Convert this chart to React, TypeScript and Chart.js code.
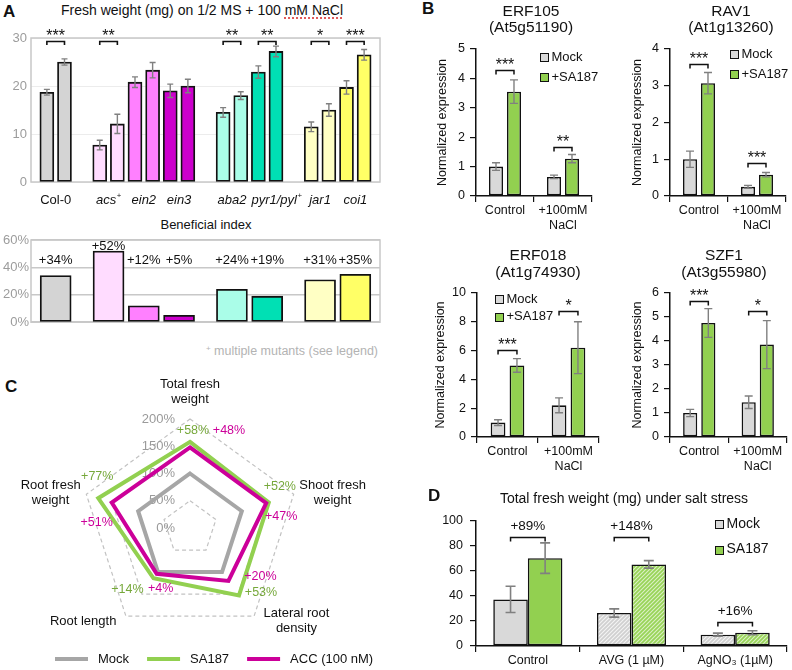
import React, { useEffect, useRef } from "react";
import { Chart, registerables } from "chart.js";

Chart.register(...registerables);

const FONT = '"Liberation Sans", Arial, Helvetica, sans-serif';
const INK = "#111111";
const ERR = "#808080";

// ---------- Panel A: fresh weight on 1/2 MS + 100 mM NaCl ----------
const genotypes = ["Col-0", "acs⁺", "ein2", "ein3", "aba2", "pyr1/pyl⁺", "jar1", "coi1"];
const genotypeGroup = [0, 1, 1, 1, 2, 2, 3, 3];
const freshMock = [18.7, 7.7, 20.8, 19.0, 14.5, 22.9, 11.5, 19.7];
const freshMockErr = [0.6, 1.0, 1.1, 1.4, 1.0, 1.3, 1.0, 1.4];
const freshSA187 = [25.0, 12.1, 23.3, 20.0, 18.0, 27.2, 15.0, 26.5];
const freshSA187Err = [0.65, 2.0, 1.6, 1.4, 0.8, 1.1, 1.3, 1.1];
const freshStars = ["***", "**", "", "", "**", "**", "*", "***"];
const freshBracketLevel = 29.3;
const freshTicks = [0, 10, 20, 30];
const beneficialIndex = [34, 52, 12, 5, 24, 19, 31, 35];
const beneficialTicks = [0, 20, 40, 60];

// ---------- Panel B: qPCR ----------
const qpcrConditions: any[] = ["Control", ["+100mM", "NaCl"]];
const qpcrSeries = ["Mock", "+SA187"];

const erf105Mock = [1.0, 0.65];
const erf105MockErr = [0.13, 0.06];
const erf105SA187 = [3.55, 1.27];
const erf105SA187Err = [0.4, 0.14];
const erf105Stars = ["***", "**"];
const erf105BracketLevels = [4.27, 1.68];
const erf105Ticks = [0, 1, 2, 3, 4, 5];

const rav1Mock = [1.0, 0.25];
const rav1MockErr = [0.22, 0.04];
const rav1SA187 = [3.07, 0.58];
const rav1SA187Err = [0.29, 0.06];
const rav1Stars = ["***", "***"];
const rav1BracketLevels = [3.6, 0.9];
const rav1Ticks = [0, 1, 2, 3, 4];

const erf018Mock = [1.0, 2.2];
const erf018MockErr = [0.2, 0.52];
const erf018SA187 = [4.97, 6.2];
const erf018SA187Err = [0.47, 1.8];
const erf018Stars = ["***", "*"];
const erf018BracketLevels = [6.05, 8.77];
const erf018Ticks = [0, 2, 4, 6, 8, 10];

const szf1Mock = [1.0, 1.45];
const szf1MockErr = [0.15, 0.26];
const szf1SA187 = [4.75, 3.85];
const szf1SA187Err = [0.6, 1.0];
const szf1Stars = ["***", "*"];
const szf1BracketLevels = [5.68, 5.26];
const szf1Ticks = [0, 1, 2, 3, 4, 5, 6];

// ---------- Panel C: radar ----------
const traits = [["Total fresh", "weight"], ["Shoot fresh", "weight"], ["Lateral root", "density"], ["Root length"], ["Root fresh", "weight"]];
const radarSeries = ["Mock", "SA187", "ACC (100 nM)"];
const radarMock = [100, 100, 100, 100, 100];
const radarSA187 = [158, 152, 153, 114, 177];
const radarACC = [148, 147, 120, 104, 151];
const radarTicks = [0, 50, 100, 150, 200];

// ---------- Panel D: total fresh weight ----------
const treatments = ["Control", "AVG (1 µM)", "AgNO₃ (1µM)"];
const totalSeries = ["Mock", "SA187"];
const totalMock = [37.3, 26.4, 9.1];
const totalMockErr = [10.5, 3.3, 1.2];
const totalSA187 = [70.3, 65.3, 10.6];
const totalSA187Err = [12.2, 3.0, 1.6];
const totalGainPct = [89, 148, 16];
const totalBracketLevels = [87, 87, 19.5];
const totalTicks = [0, 20, 40, 60, 80, 100];

// ---------- styles ----------
const genotypeColors = ["#d4d4d4", "#ffdcff", "#ff80ff", "#cc00cc", "#aafde8", "#00e0b4", "#ffffc4", "#ffff66"];
const MOCK_FILL = "#d9d9d9";
const SA_FILL = "#92d050";
const radarColors = ["#a6a6a6", "#92d050", "#cc0099"];
const radarTextColors = ["#a6a6a6", "#76a83a", "#cc0099"];
// offsets of the percentage notes from each polygon vertex (SA187, ACC)
const radarNoteOffsets = [
  [[3, -11], [11, -16], [22, -3], [-26, 11], [-1, -22]],
  [[39, -17], [15, 13], [32, -4], [4, 15], [-15, 20]],
];

const f = (size: number, style = "") => `${style} ${size}px ${FONT}`.trim();

function errBar(ctx: any, x: number, y1: number, y2: number, cap: number) {
  ctx.beginPath();
  ctx.moveTo(x, y1); ctx.lineTo(x, y2);
  ctx.moveTo(x - cap / 2, y1); ctx.lineTo(x + cap / 2, y1);
  ctx.moveTo(x - cap / 2, y2); ctx.lineTo(x + cap / 2, y2);
  ctx.stroke();
}
function bracket(ctx: any, x1: number, x2: number, y: number, drop: number) {
  ctx.beginPath();
  ctx.moveTo(x1, y + drop); ctx.lineTo(x1, y); ctx.lineTo(x2, y); ctx.lineTo(x2, y + drop);
  ctx.stroke();
}
function frame(chart: any, color: string, lw: number) {
  const { ctx, chartArea: a } = chart;
  ctx.save();
  ctx.strokeStyle = color; ctx.lineWidth = lw;
  ctx.strokeRect(a.left, a.top, a.right - a.left, a.bottom - a.top);
  ctx.restore();
}
// draws a label where "⁺" becomes a small raised "+"
function supText(ctx: any, text: string, left: number, y: number, size: number, style: string) {
  const parts = text.split("⁺");
  let x = left;
  parts.forEach((p, k) => {
    ctx.font = f(size, style);
    ctx.fillText(p, x, y);
    x += ctx.measureText(p).width;
    if (k < parts.length - 1) {
      ctx.font = f(size * 0.6);
      ctx.fillText("+", x + 0.5, y - size * 0.3);
      x += ctx.measureText("+").width + 0.5;
    }
  });
}
function supWidth(ctx: any, text: string, size: number, style: string) {
  const parts = text.split("⁺");
  ctx.font = f(size, style);
  let w = parts.reduce((s, p) => s + ctx.measureText(p).width, 0);
  ctx.font = f(size * 0.6);
  w += (parts.length - 1) * (ctx.measureText("+").width + 0.5);
  return w;
}

const slotOf = (i: number) => 2 * i + 1 + genotypeGroup[i];
const slotMin = 0.1;
const slotMax = slotOf(genotypes.length - 1) + 1.9;

function freshConfig(): any {
  const pts = genotypes.flatMap((_, i) => [{ x: slotOf(i), y: freshMock[i] }, { x: slotOf(i) + 1, y: freshSA187[i] }]);
  const errs = genotypes.flatMap((_, i) => [freshMockErr[i], freshSA187Err[i]]);
  return {
    type: "bar",
    data: {
      datasets: [{
        data: pts,
        backgroundColor: genotypes.flatMap((_, i) => [genotypeColors[i], genotypeColors[i]]),
        borderColor: INK, borderWidth: 1.8, borderSkipped: false, barThickness: 14,
      }],
    },
    options: {
      animation: false, responsive: false,
      layout: { padding: { left: 0, top: 38, right: 12, bottom: 30 } },
      plugins: { legend: { display: false }, tooltip: { enabled: false } },
      scales: {
        x: { type: "linear", min: slotMin, max: slotMax, offset: false, display: false },
        y: {
          min: 0, max: freshTicks[freshTicks.length - 1],
          afterBuildTicks: (s: any) => { s.ticks = freshTicks.map((v) => ({ value: v })); },
          ticks: { color: "#9c9c9c", font: { family: FONT, size: 13 }, padding: 4 },
          grid: { color: "#ececec", lineWidth: 1, drawTicks: false },
          border: { display: false },
          afterFit: (s: any) => { s.width = 31; },
        },
      },
    },
    plugins: [{
      id: "freshDecor",
      beforeDatasetsDraw(chart: any) { frame(chart, "#c8c8c8", 1.5); },
      afterDraw(chart: any) {
        const { ctx, scales: { x, y }, chartArea } = chart;
        const meta = chart.getDatasetMeta(0);
        ctx.save();
        ctx.strokeStyle = ERR; ctx.lineWidth = 1.4;
        meta.data.forEach((el: any, k: number) => {
          const v = pts[k].y, e = errs[k];
          errBar(ctx, el.x, y.getPixelForValue(v + e), y.getPixelForValue(v - e), 6);
        });
        ctx.strokeStyle = INK; ctx.lineWidth = 1.6; ctx.fillStyle = INK;
        ctx.textAlign = "center"; ctx.textBaseline = "alphabetic"; ctx.font = f(16);
        const by = Math.round(y.getPixelForValue(freshBracketLevel)) + 0.5;
        freshStars.forEach((s, i) => {
          if (!s) return;
          const x1 = meta.data[2 * i].x, x2 = meta.data[2 * i + 1].x;
          bracket(ctx, x1, x2, by, 3.5);
          ctx.fillText(s, (x1 + x2) / 2, by - 1);
        });
        // genotype labels
        ctx.textBaseline = "middle"; ctx.textAlign = "left";
        let prevRight = -Infinity;
        genotypes.forEach((g, i) => {
          const style = i === 0 ? "" : "italic";
          const w = supWidth(ctx, g, 13, style);
          let left = x.getPixelForValue(slotOf(i) + 0.5) - w / 2;
          if (left < prevRight + 5) left = prevRight + 5;
          supText(ctx, g, left, chartArea.bottom + 18, 13, style);
          prevRight = left + w;
        });
        ctx.restore();
      },
    }],
  };
}

function beneficialConfig(): any {
  const pts = genotypes.map((_, i) => ({ x: slotOf(i) + 0.5, y: beneficialIndex[i] }));
  return {
    type: "bar",
    data: {
      datasets: [{
        data: pts, backgroundColor: genotypeColors,
        borderColor: INK, borderWidth: 1.8, borderSkipped: false, barThickness: 31,
      }],
    },
    options: {
      animation: false, responsive: false,
      layout: { padding: { left: 0, top: 10, right: 12, bottom: 4 } },
      plugins: { legend: { display: false }, tooltip: { enabled: false } },
      scales: {
        x: { type: "linear", min: slotMin, max: slotMax, offset: false, display: false },
        y: {
          min: 0, max: beneficialTicks[beneficialTicks.length - 1],
          afterBuildTicks: (s: any) => { s.ticks = beneficialTicks.map((v) => ({ value: v })); },
          ticks: { color: "#9c9c9c", font: { family: FONT, size: 13 }, padding: 2, callback: (v: any) => `${v}%` },
          grid: { color: "#c8c8c8", lineWidth: 1.5, drawTicks: false },
          border: { display: false },
          afterFit: (s: any) => { s.width = 31; },
        },
      },
    },
    plugins: [{
      id: "beneficialDecor",
      beforeDatasetsDraw(chart: any) { frame(chart, "#c8c8c8", 1.5); },
      afterDraw(chart: any) {
        const { ctx, scales: { y } } = chart;
        const meta = chart.getDatasetMeta(0);
        ctx.save();
        ctx.fillStyle = INK; ctx.font = f(13); ctx.textAlign = "center"; ctx.textBaseline = "middle";
        meta.data.forEach((el: any, i: number) => {
          const v = beneficialIndex[i];
          ctx.fillText(`+${v}%`, el.x, y.getPixelForValue(Math.max(45, v + 3.5)));
        });
        ctx.restore();
      },
    }],
  };
}

function pairDecor(o: any) {
  return {
    id: "pairDecor",
    afterDraw(chart: any) {
      const { ctx, scales: { y }, chartArea } = chart;
      ctx.save();
      ctx.strokeStyle = ERR; ctx.lineWidth = o.errWidth;
      [0, 1].forEach((d) => {
        const meta = chart.getDatasetMeta(d);
        const vals = chart.data.datasets[d].data;
        meta.data.forEach((el: any, i: number) => {
          const v = vals[i], e = o.errs[d][i];
          errBar(ctx, el.x, y.getPixelForValue(v + e), y.getPixelForValue(v - e), o.cap);
        });
      });
      ctx.strokeStyle = INK; ctx.lineWidth = 1.5; ctx.fillStyle = INK;
      ctx.textAlign = "center"; ctx.textBaseline = "alphabetic"; ctx.font = o.markFont;
      o.marks.forEach((m: string, i: number) => {
        if (!m) return;
        const x1 = chart.getDatasetMeta(0).data[i].x, x2 = chart.getDatasetMeta(1).data[i].x;
        const yy = Math.round(y.getPixelForValue(o.levels[i])) + 0.5;
        bracket(ctx, x1, x2, yy, 4);
        ctx.fillText(m, (x1 + x2) / 2, yy - o.markLift);
      });
      if (o.legend) {
        const L = o.legend;
        ctx.font = L.font; ctx.textAlign = "left"; ctx.textBaseline = "middle"; ctx.lineWidth = 1;
        o.names.forEach((name: string, k: number) => {
          const sx = Math.round(chartArea.left + L.dx) + 0.5;
          const cy = chartArea.top + L.dy + k * L.gap;
          const sy = Math.round(cy - 4) + 0.5;
          ctx.fillStyle = o.swatches[k]; ctx.fillRect(sx, sy, 8, 8);
          ctx.strokeStyle = INK; ctx.strokeRect(sx, sy, 8, 8);
          ctx.fillStyle = INK; ctx.fillText(name, sx + 11, cy);
        });
      }
      ctx.restore();
    },
  };
}

function qpcrConfig(s: any): any {
  return {
    type: "bar",
    data: {
      labels: qpcrConditions,
      datasets: [
        { label: qpcrSeries[0], data: s.mock, backgroundColor: MOCK_FILL },
        { label: qpcrSeries[1], data: s.sa, backgroundColor: SA_FILL },
      ],
    },
    options: {
      animation: false, responsive: false,
      layout: { padding: { left: s.pad[0], top: s.pad[1], right: s.pad[2], bottom: 0 } },
      plugins: { legend: { display: false }, tooltip: { enabled: false } },
      datasets: { bar: { categoryPercentage: 0.62, barPercentage: 0.78, borderColor: INK, borderWidth: 1.6, borderSkipped: false } },
      scales: {
        x: {
          ticks: { color: INK, font: { family: FONT, size: 12.5 }, padding: 1, maxRotation: 0, autoSkip: false },
          grid: { display: true, drawOnChartArea: false, drawTicks: true, tickLength: 6, color: INK, lineWidth: 1.2, offset: true },
          border: { display: true, color: INK, width: 1.5 },
          afterFit: (sc: any) => { sc.height = 40; },
        },
        y: {
          min: 0, max: s.ticks[s.ticks.length - 1],
          afterBuildTicks: (sc: any) => { sc.ticks = s.ticks.map((v: number) => ({ value: v })); },
          ticks: { color: INK, font: { family: FONT, size: 12.5 }, padding: 5 },
          grid: { display: true, drawOnChartArea: false, drawTicks: true, tickLength: 6, color: INK, lineWidth: 1.2 },
          border: { display: true, color: INK, width: 1.5 },
          title: { display: true, text: "Normalized expression", color: INK, font: { family: FONT, size: 12.5 }, padding: { top: 4, bottom: 0 } },
          afterFit: (sc: any) => { sc.width = s.axisWidth; },
        },
      },
    },
    plugins: [pairDecor({
      errs: [s.mockErr, s.saErr], marks: s.stars, levels: s.levels, cap: 8, errWidth: 1.4,
      markFont: f(16), markLift: 1, legend: s.legend, names: qpcrSeries, swatches: [MOCK_FILL, SA_FILL],
    })],
  };
}

function hatch(base: string, line: string) {
  const c = document.createElement("canvas");
  c.width = 4; c.height = 4;
  const g = c.getContext("2d")!;
  g.fillStyle = base; g.fillRect(0, 0, 4, 4);
  g.strokeStyle = line; g.lineWidth = 1.1;
  g.beginPath();
  g.moveTo(0, 4); g.lineTo(4, 0);
  g.moveTo(-1, 1); g.lineTo(1, -1);
  g.moveTo(3, 5); g.lineTo(5, 3);
  g.stroke();
  return g.createPattern(c, "repeat");
}

function totalConfig(): any {
  const mockH = hatch("#d0d0d0", "#f4f4f4");
  const saH = hatch("#98d458", "#dcf0c6");
  return {
    type: "bar",
    data: {
      labels: treatments,
      datasets: [
        { label: totalSeries[0], data: totalMock, backgroundColor: treatments.map((_, i) => (i === 0 ? MOCK_FILL : mockH)) },
        { label: totalSeries[1], data: totalSA187, backgroundColor: treatments.map((_, i) => (i === 0 ? SA_FILL : saH)) },
      ],
    },
    options: {
      animation: false, responsive: false,
      layout: { padding: { left: 0, top: 16, right: 5, bottom: 0 } },
      plugins: { legend: { display: false }, tooltip: { enabled: false } },
      datasets: { bar: { categoryPercentage: 0.667, barPercentage: 1.0, borderColor: INK, borderWidth: 1.6, borderSkipped: false } },
      scales: {
        x: {
          ticks: { color: INK, font: { family: FONT, size: 12.5 }, padding: 1, maxRotation: 0, autoSkip: false },
          grid: { display: true, drawOnChartArea: false, drawTicks: true, tickLength: 6, color: INK, lineWidth: 1.2, offset: true },
          border: { display: true, color: INK, width: 1.5 },
          afterFit: (sc: any) => { sc.height = 24; },
        },
        y: {
          min: 0, max: totalTicks[totalTicks.length - 1],
          afterBuildTicks: (sc: any) => { sc.ticks = totalTicks.map((v) => ({ value: v })); },
          ticks: { color: INK, font: { family: FONT, size: 12.5 }, padding: 7 },
          grid: { display: true, drawOnChartArea: false, drawTicks: true, tickLength: 6, color: INK, lineWidth: 1.2 },
          border: { display: true, color: INK, width: 1.5 },
          afterFit: (sc: any) => { sc.width = 46; },
        },
      },
    },
    plugins: [pairDecor({
      errs: [totalMockErr, totalSA187Err], marks: totalGainPct.map((p) => `+${p}%`), levels: totalBracketLevels,
      cap: 10, errWidth: 1.6, markFont: f(13.5), markLift: 8,
      legend: { dx: 239, dy: 3, gap: 25.5, font: f(14) }, names: totalSeries, swatches: [MOCK_FILL, SA_FILL],
    })],
  };
}

function radarConfig(): any {
  const series = [radarMock, radarSA187, radarACC];
  return {
    type: "radar",
    data: {
      labels: traits.map((t) => t.join(" ")),
      datasets: series.map((d, i) => ({
        label: radarSeries[i], data: d, borderColor: radarColors[i], backgroundColor: "transparent",
        order: 3 - i,
      })),
    },
    options: {
      animation: false, responsive: false,
      layout: { padding: { left: 81, top: 49, right: 93, bottom: 33 } },
      plugins: { legend: { display: false }, tooltip: { enabled: false } },
      elements: { line: { borderWidth: 4, fill: false, tension: 0, borderJoinStyle: "miter" }, point: { radius: 0 } },
      scales: {
        r: {
          min: 0, max: radarTicks[radarTicks.length - 1],
          afterBuildTicks: (sc: any) => { sc.ticks = radarTicks.map((v) => ({ value: v })); },
          ticks: { display: false },
          pointLabels: { display: false },
          angleLines: { display: false },
          grid: { color: "#c2c2c2", lineWidth: 1.2 },
          border: { dash: [4, 3] },
        },
      },
    },
    plugins: [{
      id: "radarDecor",
      beforeDatasetsDraw(chart: any) {
        const r = chart.scales.r, ctx = chart.ctx;
        ctx.save();
        ctx.font = f(13); ctx.fillStyle = "#9a9a9a"; ctx.textAlign = "right"; ctx.textBaseline = "middle";
        radarTicks.forEach((v) => ctx.fillText(`${v}%`, r.xCenter - 15, r.yCenter - r.getDistanceFromCenterForValue(v)));
        ctx.restore();
      },
      afterDraw(chart: any) {
        const r = chart.scales.r, ctx = chart.ctx;
        ctx.save();
        ctx.font = f(13); ctx.fillStyle = INK; ctx.textAlign = "center"; ctx.textBaseline = "middle";
        const lh = 15;
        traits.forEach((lines, i) => {
          const p = r.getPointPosition(i, r.drawingArea + 6);
          const ang = (i * 2 * Math.PI) / traits.length;
          const s = Math.sin(ang), c = Math.cos(ang);
          const h = lines.length * lh;
          const w = Math.max(...lines.map((t) => ctx.measureText(t).width));
          let cx: number, cy: number;
          if (Math.abs(s) < 0.1) { cx = p.x; cy = c > 0 ? p.y - 6 - h / 2 : p.y + 6 + h / 2; }
          else { const gap = c < 0 ? 6 : 0; cx = s > 0 ? p.x + gap + w / 2 : p.x - gap - w / 2; cy = p.y; }
          lines.forEach((t, k) => ctx.fillText(t, cx, cy - h / 2 + lh / 2 + k * lh));
        });
        ctx.font = f(12.5);
        [radarSA187, radarACC].forEach((vals, d) => {
          ctx.fillStyle = radarTextColors[d + 1];
          vals.forEach((v, i) => {
            const p = r.getPointPositionForValue(i, v);
            const [dx, dy] = radarNoteOffsets[d][i];
            ctx.fillText(`+${v - 100}%`, p.x + dx, p.y + dy);
          });
        });
        ctx.font = f(13); ctx.textAlign = "left"; ctx.fillStyle = INK; ctx.lineWidth = 4;
        let lx = 55; const ly = chart.height - 11;
        radarSeries.forEach((name, i) => {
          ctx.strokeStyle = radarColors[i];
          ctx.beginPath(); ctx.moveTo(lx, ly); ctx.lineTo(lx + 33, ly); ctx.stroke();
          lx += 43;
          ctx.fillText(name, lx, ly);
          lx += ctx.measureText(name).width + 18;
        });
        ctx.restore();
      },
    }],
  };
}

function ChartBox(props: { left: number; top: number; width: number; height: number; make: () => any }) {
  const ref = useRef<HTMLCanvasElement>(null);
  useEffect(() => {
    const chart = new Chart(ref.current as HTMLCanvasElement, props.make());
    return () => chart.destroy();
  }, []);
  const { left, top, width, height } = props;
  return <canvas ref={ref} width={width} height={height} style={{ position: "absolute", left, top, width, height }} />;
}

function Label(props: { x: number; y: number; size: number; children: any; align?: "left" | "center" | "right"; weight?: any; color?: string }) {
  const { x, y, size, children, align = "left", weight = "normal", color = INK } = props;
  const w = 400;
  const left = align === "left" ? x : align === "center" ? x - w / 2 : x - w;
  return (
    <div style={{ position: "absolute", left, top: y - 0.59 * size, width: w, textAlign: align, fontFamily: FONT, fontSize: size, fontWeight: weight, lineHeight: `${1.2 * size}px`, color, whiteSpace: "nowrap" }}>
      {children}
    </div>
  );
}

export default function App() {
  return (
    <div style={{ position: "absolute", left: 0, top: 0, width: 792, height: 670, background: "#fff", overflow: "hidden" }}>
      {/* Panel A */}
      <Label x={3} y={12} size={17} weight="bold">A</Label>
      <Label x={202} y={10.5} size={14} align="center">
        Fresh weight (mg) on 1/2 MS + 100{" "}
        <span style={{ textDecorationLine: "underline", textDecorationStyle: "dotted", textDecorationColor: "#e05a5a", textDecorationThickness: "1.5px", textUnderlineOffset: "2px" }}>mM NaCl</span>
      </Label>
      <ChartBox left={0} top={0} width={392} height={212} make={freshConfig} />
      <Label x={206} y={225} size={13} align="center">Beneficial index</Label>
      <ChartBox left={0} top={230} width={392} height={102} make={beneficialConfig} />
      <Label x={378} y={348} size={12.5} align="right" color="#b3b3b3">
        <span style={{ fontSize: 8, verticalAlign: "4px" }}>+</span> multiple mutants (see legend)
      </Label>

      {/* Panel B */}
      <Label x={422} y={9.5} size={17} weight="bold">B</Label>
      <Label x={531} y={11} size={15.5} align="center">ERF105</Label>
      <Label x={531} y={27.5} size={15.5} align="center">(At5g51190)</Label>
      <Label x={731} y={11} size={15.5} align="center">RAV1</Label>
      <Label x={731} y={27.5} size={15.5} align="center">(At1g13260)</Label>
      <Label x={538} y={255.5} size={15.5} align="center">ERF018</Label>
      <Label x={538} y={272} size={15.5} align="center">(At1g74930)</Label>
      <Label x={724} y={255.5} size={15.5} align="center">SZF1</Label>
      <Label x={724} y={272} size={15.5} align="center">(At3g55980)</Label>
      <ChartBox left={427} top={35} width={173} height={201} make={() => qpcrConfig({
        mock: erf105Mock, mockErr: erf105MockErr, sa: erf105SA187, saErr: erf105SA187Err, stars: erf105Stars,
        levels: erf105BracketLevels, ticks: erf105Ticks, pad: [4, 14, 8], axisWidth: 45, legend: { dx: 64, dy: 8, gap: 20, font: f(13) },
      })} />
      <ChartBox left={621} top={35} width={171} height={201} make={() => qpcrConfig({
        mock: rav1Mock, mockErr: rav1MockErr, sa: rav1SA187, saErr: rav1SA187Err, stars: rav1Stars,
        levels: rav1BracketLevels, ticks: rav1Ticks, pad: [5, 14, 6], axisWidth: 44, legend: { dx: 60, dy: 5, gap: 20, font: f(13) },
      })} />
      <ChartBox left={424} top={279} width={180} height={198} make={() => qpcrConfig({
        mock: erf018Mock, mockErr: erf018MockErr, sa: erf018SA187, saErr: erf018SA187Err, stars: erf018Stars,
        levels: erf018BracketLevels, ticks: erf018Ticks, pad: [5, 14, 5], axisWidth: 48, legend: { dx: 18, dy: 6.3, gap: 17.5, font: f(13) },
      })} />
      <ChartBox left={621} top={279} width={171} height={198} make={() => qpcrConfig({
        mock: szf1Mock, mockErr: szf1MockErr, sa: szf1SA187, saErr: szf1SA187Err, stars: szf1Stars,
        levels: szf1BracketLevels, ticks: szf1Ticks, pad: [5, 14, 5], axisWidth: 44, legend: null,
      })} />

      {/* Panel C */}
      <Label x={5} y={387.5} size={17} weight="bold">C</Label>
      <ChartBox left={0} top={370} width={392} height={300} make={radarConfig} />

      {/* Panel D */}
      <Label x={428} y={496.5} size={17} weight="bold">D</Label>
      <Label x={624} y={498} size={14} align="center">Total fresh weight (mg) under salt stress</Label>
      <ChartBox left={430} top={505} width={362} height={165} make={totalConfig} />
    </div>
  );
}
